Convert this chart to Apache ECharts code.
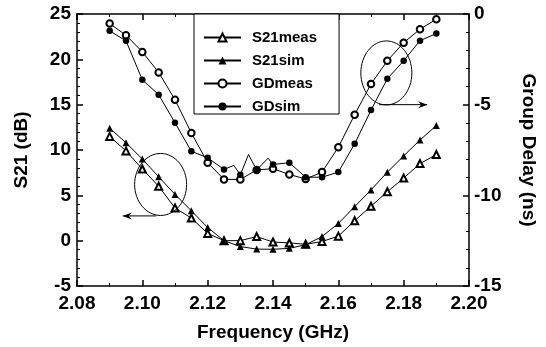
<!DOCTYPE html>
<html>
<head>
<meta charset="utf-8">
<script src="https://cdn.jsdelivr.net/npm/echarts@6/dist/echarts.min.js"></script>
<style>
html,body{margin:0;padding:0;background:#fff}
#myEchart1{width:546px;height:347px}
</style>
</head>
<body>
<div id="myEchart1"></div>
<script>
// frequency of each marker (GHz)
var freq = [2.09, 2.095, 2.10, 2.105, 2.11, 2.115, 2.12, 2.125, 2.13, 2.135, 2.14,
            2.145, 2.15, 2.155, 2.16, 2.165, 2.17, 2.175, 2.18, 2.185, 2.19];
// S21 in dB (left axis)
var s21meas = [11.5, 9.9, 7.9, 6.0, 3.6, 2.5, 0.8, 0.0, 0.0, 0.45, -0.15,
               -0.25, -0.4, -0.1, 0.5, 2.2, 3.8, 5.4, 6.9, 8.5, 9.5];
var s21sim = [12.4, 10.8, 9.0, 7.05, 5.1, 3.3, 1.45, 0.0, -0.65, -0.93, -0.95,
              -0.85, -0.45, 0.45, 1.9, 3.75, 5.6, 7.55, 9.35, 11.1, 12.7];
// group delay in ns (right axis)
var gdMeas = [-0.53, -1.17, -2.09, -3.22, -4.73, -6.56, -8.2, -9.12, -9.12, -8.6, -8.53,
              -8.85, -9.1, -8.72, -7.35, -5.55, -3.86, -2.58, -1.58, -0.84, -0.29];
var gdSim = [-0.93, -1.48, -3.63, -4.45, -6.0, -7.57, -7.93, -8.57, -8.87, -8.6, -8.3,
             -8.2, -9.0, -9.0, -8.72, -7.16, -5.3, -3.57, -2.58, -1.47, -1.08];
// spikes of the simulated group delay between markers (no symbol)
var gdSimWiggleFreq = [2.128, 2.1325, 2.1385];
var gdSimWiggle = [-8.35, -7.75, -7.95];

function pairs(xs, ys) {
  return xs.map(function (x, i) { return [x, ys[i]]; });
}

var gdSimData = pairs(freq, gdSim);
gdSimWiggleFreq.forEach(function (f, i) {
  gdSimData.push({ value: [f, gdSimWiggle[i]], symbol: 'none' });
});
gdSimData.sort(function (a, b) {
  var fa = Array.isArray(a) ? a[0] : a.value[0];
  var fb = Array.isArray(b) ? b[0] : b.value[0];
  return fa - fb;
});

var labelFont = { color: '#000', fontWeight: 'bold', fontSize: 19, fontFamily: 'Liberation Sans, Arial' };
var nameFont = { color: '#000', fontWeight: 'bold', fontSize: 19, fontFamily: 'Liberation Sans, Arial' };
var axisLine = { show: true, onZero: false, lineStyle: { color: '#000', width: 1.5 } };
var axisTick = { inside: true, length: 6, lineStyle: { color: '#000', width: 1.5 } };

function lineSeries(name, data, symbol, size, yIdx) {
  return {
    name: name,
    type: 'line',
    yAxisIndex: yIdx,
    data: data,
    symbol: symbol,
    symbolSize: size,
    showSymbol: true,
    lineStyle: { color: '#000', width: 1 },
    itemStyle: { color: '#000', borderWidth: 1 },
    emphasis: { disabled: true },
    z: 3
  };
}

var myChart = echarts.init(document.getElementById('myEchart1'));
var option = {
  animation: false,
  backgroundColor: '#fff',
  grid: { left: 77, right: 76, top: 14, bottom: 60 },
  legend: {
    orient: 'vertical',
    left: 194,
    top: 14,
    padding: [16, 22, 0, 9],
    itemGap: 8,
    itemWidth: 37,
    itemHeight: 10,
    borderColor: '#000',
    borderWidth: 1,
    backgroundColor: '#fff',
    textStyle: { color: '#000', fontWeight: 'bold', fontSize: 15, fontFamily: 'Liberation Sans, Arial', padding: [0, 0, 0, 6] },
    data: ['S21meas', 'S21sim', 'GDmeas', 'GDsim']
  },
  xAxis: [
    {
      type: 'value',
      min: 2.08,
      max: 2.20,
      interval: 0.02,
      name: 'Frequency (GHz)',
      nameLocation: 'middle',
      nameGap: 37,
      nameTextStyle: nameFont,
      axisLine: axisLine,
      axisTick: axisTick,
      minorTick: { show: true, splitNumber: 2, length: 3, lineStyle: { color: '#000' } },
      splitLine: { show: false },
      axisLabel: Object.assign({ margin: 8, formatter: function (v) { return v.toFixed(2); } }, labelFont)
    },
    {
      type: 'value',
      position: 'top',
      min: 2.08,
      max: 2.20,
      interval: 0.02,
      axisLine: axisLine,
      axisTick: axisTick,
      minorTick: { show: true, splitNumber: 2, length: 3, lineStyle: { color: '#000' } },
      splitLine: { show: false },
      axisLabel: { show: false }
    }
  ],
  yAxis: [
    {
      type: 'value',
      min: -5,
      max: 25,
      interval: 5,
      name: 'S21 (dB)',
      nameLocation: 'middle',
      nameGap: 46,
      nameRotate: 90,
      nameTextStyle: nameFont,
      axisLine: axisLine,
      axisTick: axisTick,
      minorTick: { show: true, splitNumber: 5, length: 3, lineStyle: { color: '#000' } },
      splitLine: { show: false },
      axisLabel: Object.assign({ margin: 6 }, labelFont)
    },
    {
      type: 'value',
      min: -15,
      max: 0,
      interval: 5,
      position: 'right',
      name: 'Group Delay (ns)',
      nameLocation: 'middle',
      nameGap: 50,
      nameRotate: -90,
      nameTextStyle: nameFont,
      axisLine: axisLine,
      axisTick: axisTick,
      minorTick: { show: true, splitNumber: 5, length: 3, lineStyle: { color: '#000' } },
      splitLine: { show: false },
      axisLabel: Object.assign({ margin: 5 }, labelFont)
    }
  ],
  series: [
    lineSeries('S21meas', pairs(freq, s21meas), 'emptyTriangle', 7, 0),
    lineSeries('S21sim', pairs(freq, s21sim), 'triangle', 7, 0),
    lineSeries('GDmeas', pairs(freq, gdMeas), 'emptyCircle', 6.5, 1),
    lineSeries('GDsim', gdSimData, 'circle', 6.5, 1)
  ]
};
myChart.setOption(option);

// ellipses and arrows, placed from data coordinates of the left axis
function px(f, v) {
  return myChart.convertToPixel({ xAxisIndex: 0, yAxisIndex: 0 }, [f, v]);
}
function ellipse(c, rx, ry) {
  return { type: 'ellipse', shape: { cx: c[0], cy: c[1], rx: rx, ry: ry },
           style: { fill: 'none', stroke: '#000', lineWidth: 1 }, z: 10, silent: true };
}
function arrow(a, b) {
  var dir = b[0] > a[0] ? 1 : -1;
  return [
    { type: 'line', shape: { x1: a[0], y1: a[1], x2: b[0], y2: b[1] },
      style: { stroke: '#000', lineWidth: 1 }, z: 10, silent: true },
    { type: 'polygon', shape: { points: [[b[0], b[1]], [b[0] - dir * 9, b[1] - 3.5], [b[0] - dir * 6, b[1]], [b[0] - dir * 9, b[1] + 3.5]] },
      style: { fill: '#000' }, z: 10, silent: true }
  ];
}
var graphics = [
  ellipse(px(2.1056, 6.2), 26, 31),
  ellipse(px(2.1747, 18.5), 25.5, 32)
].concat(arrow(px(2.1043, 2.73), px(2.094, 2.73)))
 .concat(arrow(px(2.1725, 15.0), px(2.1872, 15.0)));
myChart.setOption({ graphic: graphics });
</script>
</body>
</html>
